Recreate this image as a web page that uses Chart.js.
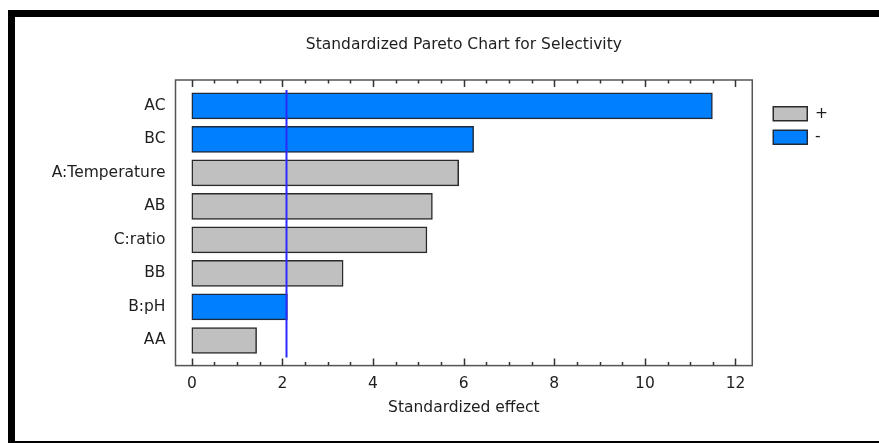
<!DOCTYPE html>
<html>
<head>
<meta charset="utf-8">
<title>Standardized Pareto Chart for Selectivity</title>
<script src="https://cdn.jsdelivr.net/npm/chart.js@4.4.1/dist/chart.umd.min.js"></script>
<style>
  html, body { margin: 0; padding: 0; background: #fff; }
  body { width: 879px; height: 443px; position: relative; overflow: hidden; }
  .panel {
    position: absolute; left: 8px; top: 10px; width: 900px; height: 433px;
    box-sizing: border-box;
    border-left: 7px solid #000; border-top: 7px solid #000; border-bottom: 2px solid #000;
  }
  .chart-box { position: absolute; left: 43px; top: 20px; width: 836px; height: 420px; }
</style>
</head>
<body>
<div class="panel"></div>
<div class="chart-box"><canvas id="myChart"></canvas></div>
<script>
// effects, largest first (top to bottom)
const categories = ['AC', 'BC', 'A:Temperature', 'AB', 'C:ratio', 'BB', 'B:pH', 'AA'];
const effects = [11.49, 6.22, 5.89, 5.31, 5.19, 3.34, 2.11, 1.43];
const signs = ['-', '-', '+', '+', '+', '+', '-', '+'];
const xTicks = [0, 2, 4, 6, 8, 10, 12];
const critical = 2.07;

const textColor = '#1e1e1e';
const font = (size) => ({ family: 'DejaVu Sans', size: size });

function seriesFor(sign) {
	let out = [];
	effects.forEach( (v, i) => {
		if (signs[i] == sign) out.push({ x: v, y: i });
	})
	return out;
}

// frame, inward ticks and the significance line
const paretoFrame = {
	id: 'paretoFrame',
	afterDatasetsDraw(chart) {
		const { ctx, chartArea: a, scales: { x } } = chart;
		ctx.save();

		// critical value line
		const lx = Math.round(x.getPixelForValue(critical)) + 0.5;
		ctx.strokeStyle = '#2b2bff';
		ctx.lineWidth = 2;
		ctx.beginPath();
		ctx.moveTo(lx, a.top + 10);
		ctx.lineTo(lx, a.bottom - 8);
		ctx.stroke();

		// box around the plot
		ctx.strokeStyle = '#555';
		ctx.lineWidth = 1.5;
		ctx.strokeRect(a.left, a.top, a.right - a.left, a.bottom - a.top);

		// ticks every 0.5, longer on the labelled ones
		ctx.strokeStyle = '#333';
		for (let v = 0; v <= 12; v += 0.5) {
			const px = Math.round(x.getPixelForValue(v)) + 0.5;
			const len = xTicks.includes(v) ? 7 : 3.5;
			ctx.beginPath();
			ctx.moveTo(px, a.bottom);
			ctx.lineTo(px, a.bottom - len);
			ctx.moveTo(px, a.top);
			ctx.lineTo(px, a.top + len);
			ctx.stroke();
		}
		ctx.restore();
	}
};

const ctx = document.getElementById('myChart');

new Chart(ctx, {
	type: 'bar',
	data: {
		datasets: [{
			label: '+',
			data: seriesFor('+'),
			backgroundColor: '#c0c0c0',
			borderColor: '#2a2a2a',
			borderWidth: 1.5,
			borderSkipped: false,
			barThickness: 26,
			grouped: false
		}, {
			label: '-',
			data: seriesFor('-'),
			backgroundColor: '#0080ff',
			borderColor: '#1f2a3a',
			borderWidth: 1.5,
			borderSkipped: false,
			barThickness: 26,
			grouped: false
		}]
	},
	options: {
		indexAxis: 'y',
		responsive: true,
		maintainAspectRatio: false,
		animation: false,
		layout: { padding: { top: 0, right: 41, bottom: 22.7, left: 0 } },
		scales: {
			x: {
				type: 'linear',
				min: -0.36,
				max: 12.37,
				grid: { display: false, drawTicks: false },
				border: { display: false },
				afterBuildTicks: (s) => { s.ticks = xTicks.map( (v) => ({ value: v }) ); },
				ticks: { padding: 9, color: textColor, font: font(15.5) },
				title: {
					display: true,
					text: 'Standardized effect',
					color: textColor,
					padding: { top: -3.5, bottom: 0 },
					font: font(15.5)
				}
			},
			y: {
				type: 'linear',
				reverse: true,
				offset: false,
				min: -0.77,
				max: 7.75,
				grid: { display: false, drawTicks: false },
				border: { display: false },
				afterBuildTicks: (s) => { s.ticks = categories.map( (c, i) => ({ value: i }) ); },
				ticks: {
					padding: 10,
					color: textColor,
					font: font(15.5),
					callback: (v) => categories[v]
				}
			},
			// empty strip between the plot box and the legend
			gap: {
				axis: 'y',
				position: 'right',
				grid: { display: false, drawTicks: false },
				border: { display: false },
				ticks: { display: false },
				afterFit: (s) => { s.width = 13; }
			}
		},
		plugins: {
			title: {
				display: true,
				fullSize: false,
				text: 'Standardized Pareto Chart for Selectivity',
				color: textColor,
				padding: { top: 16, bottom: 25.4 },
				font: { family: 'DejaVu Sans', size: 15.5, weight: 'normal' }
			},
			legend: {
				position: 'right',
				align: 'start',
				fullSize: false,
				title: { display: true, text: '', padding: { top: 0, bottom: 6 }, font: { size: 10 } },
				labels: {
					boxWidth: 34,
					boxHeight: 14,
					padding: 8,
					color: textColor,
					font: font(15.5)
				}
			},
			tooltip: { enabled: false }
		}
	},
	plugins: [paretoFrame]
});
</script>
</body>
</html>
